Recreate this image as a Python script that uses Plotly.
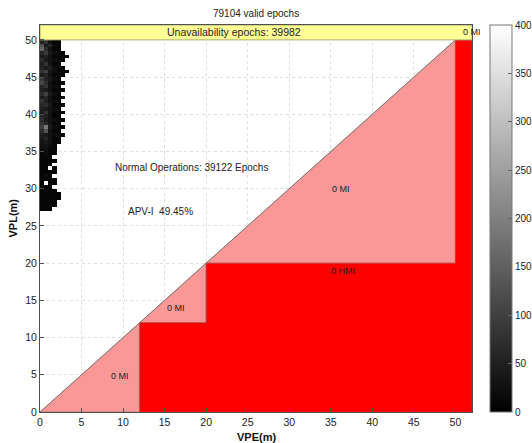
import plotly.graph_objects as go

# ---------------- data ----------------
title_text = "79104 valid epochs"
unavail_text = "Unavailability epochs: 39982"
normal_text = "Normal Operations: 39122 Epochs"
apv_text = "APV-I  49.45%"

axis_max = 52
val_steps = [12, 20, 50]          # alert-limit steps (VPE / VPL thresholds)
tick_vals = [0, 5, 10, 15, 20, 25, 30, 35, 40, 45, 50]
cbar_ticks = [0, 50, 100, 150, 200, 250, 300, 350, 400]

region_labels = ["0 MI", "0 MI", "0 HMI", "0 MI", "0 MI"]
region_label_x = [9.6, 16.4, 36.5, 36.2, 52.0]
region_label_y = [4.8, 14.0, 18.9, 30.0, 51.0]

# 2-D histogram of epochs (VPE bins 0.5 m, VPL bins 0.5 m), rows top -> bottom
bin_size = 0.5
hist_x_centers = [0.25, 0.75, 1.25, 1.75, 2.25, 2.75, 3.25, 3.75]
hist_y_top = 51.75
hist_rows = [
    [30, 70, 40, 20, 10],
    [40, 90, 30, 20, 10],
    [30, 60, 50, 10, 10],
    [70, 40, 30, 20, 10, 10],
    [50, 80, 30, 10, 10],
    [130, 40, 60, 20, 10],
    [160, 70, 30, 10, 10],
    [60, 90, 40, 20, 10, 10],
    [40, 50, 30, 10, 10, 10, 10],
    [70, 40, 30, 20, 10, 10],
    [50, 80, 30, 10, 10],
    [60, 40, 50, 20, 10, 10],
    [80, 100, 30, 20, 10, 10, 10],
    [40, 60, 30, 10, 10, 10],
    [90, 50, 40, 20, 10],
    [110, 70, 30, 10, 10, 10],
    [60, 80, 30, 20, 10],
    [50, 40, 30, 10, 10, 10],
    [70, 100, 40, 20, 10],
    [40, 60, 30, 10, 10, 10],
    [80, 50, 30, 20, 10],
    [60, 70, 40, 10, 10, 10],
    [50, 40, 30, 20, 10],
    [40, 80, 30, 10, 10, 10],
    [60, 50, 30, 10, 10],
    [70, 40, 30, 20, 10, 10],
    [80, 60, 30, 10, 10],
    [100, 190, 40, 20, 10, 10],
    [70, 130, 30, 10, 10],
    [50, 40, 30, 20, 10, 10],
    [40, 60, 30, 10, 10],
    [30, 40, 30, 10, 10],
    [30, 30, 20, 10],
    [20, 30, 10, 10],
    [10, 20, 10, 10],
    [10, 10, 10],
    [10, 10, 10, 10],
    [10, 10, 10],
    [10, 10, None, 10],
    [10, 10, 10, 10],
    [10, 20, 10],
    [10, 10, 10, 10],
    [10, None, 10, 10],
    [10, 10, 10],
    [10, 20, 10, 10],
    [10, 10, 10, 10, 10],
    [10, 10, 10, 10, 10],
    [10, 10, 10, 10],
    [10, 10, 10, 10],
    [10, 10, 10],
]

# ---------------- build ----------------
ncol = len(hist_x_centers)
z = [row + [None] * (ncol - len(row)) for row in hist_rows]
hist_y_centers = [hist_y_top - i * bin_size for i in range(len(hist_rows))]

a, b, c = val_steps
pink_x = [0, a, a, b, b, c, c, 0]
pink_y = [0, 0, a, a, b, b, c, 0]
red_x = [a, axis_max, axis_max, c, c, b, b, a, a]
red_y = [0, 0, c, c, b, b, a, a, 0]

FONT = "Liberation Sans, Arial, sans-serif"
fig = go.Figure()

fig.add_trace(go.Scatter(x=pink_x, y=pink_y, fill="toself", mode="lines",
                         fillcolor="rgb(250,152,152)", line=dict(color="rgb(150,110,110)", width=0.6),
                         hoverinfo="skip", showlegend=False))
fig.add_trace(go.Scatter(x=red_x, y=red_y, fill="toself", mode="lines",
                         fillcolor="rgb(255,0,0)", line=dict(color="rgb(170,60,60)", width=0.6),
                         hoverinfo="skip", showlegend=False))
fig.add_trace(go.Scatter(x=[0, axis_max], y=[0, axis_max], mode="lines",
                         line=dict(color="rgb(110,110,110)", width=0.8),
                         hoverinfo="skip", showlegend=False))
fig.add_trace(go.Scatter(x=[0, axis_max, axis_max, 0, 0], y=[c, c, axis_max, axis_max, c],
                         fill="toself", mode="lines", fillcolor="rgb(255,255,150)",
                         line=dict(color="rgb(170,170,120)", width=1),
                         hoverinfo="skip", showlegend=False))
fig.add_trace(go.Heatmap(x=hist_x_centers, y=hist_y_centers, z=z, zmin=0, zmax=400,
                         colorscale=[[0, "black"], [1, "white"]], showscale=True,
                         colorbar=dict(x=1.042, xanchor="left", y=0.5, yanchor="middle",
                                       len=1, lenmode="fraction", thickness=22,
                                       thicknessmode="pixels", outlinewidth=1,
                                       outlinecolor="rgb(120,120,120)",
                                       tickvals=cbar_ticks, ticks="inside", ticklen=4,
                                       tickcolor="rgb(100,100,100)", xpad=0, ypad=0,
                                       tickfont=dict(size=10, color="#222", family=FONT))))

ann = []
for t, x, y in zip(region_labels, region_label_x, region_label_y):
    ann.append(dict(x=x, y=y, text=t, showarrow=False, font=dict(size=9, color="#222", family=FONT)))
ann.append(dict(x=23.3, y=51.0, text=unavail_text, showarrow=False,
                font=dict(size=10.5, color="#222", family=FONT)))
ann.append(dict(x=18.2, y=32.8, text=normal_text, showarrow=False,
                font=dict(size=10, color="#222", family=FONT)))
ann.append(dict(x=14.5, y=27.0, text=apv_text, showarrow=False,
                font=dict(size=10, color="#222", family=FONT)))
ann.append(dict(x=0.5, y=1.0, xref="paper", yref="paper", yanchor="bottom", yshift=4,
                text=title_text, showarrow=False, font=dict(size=10, color="#222", family=FONT)))
ann.append(dict(x=0.5, y=0, xref="paper", yref="paper", yanchor="top", yshift=-17,
                text="<b>VPE(m)</b>", showarrow=False, font=dict(size=11, color="#111", family=FONT)))
ann.append(dict(x=0, y=0.5, xref="paper", yref="paper", xanchor="right", xshift=-20,
                text="<b>VPL(m)</b>", textangle=-90, showarrow=False,
                font=dict(size=11, color="#111", family=FONT)))

axis_common = dict(range=[0, axis_max], tickvals=tick_vals, showgrid=True,
                   gridcolor="rgb(222,222,222)", griddash="dot", gridwidth=1,
                   showline=True, linecolor="rgb(80,80,80)", linewidth=1, mirror=True,
                   ticks="inside", ticklen=4, tickcolor="rgb(80,80,80)", zeroline=False,
                   tickfont=dict(size=10.5, color="#222", family=FONT))

fig.update_layout(
    width=532, height=443, plot_bgcolor="white", paper_bgcolor="white",
    margin=dict(l=40, r=60, t=25, b=31, autoexpand=False),
    xaxis=dict(**axis_common),
    yaxis=dict(**axis_common),
    annotations=ann, showlegend=False,
)
fig.write_html("out.html")
